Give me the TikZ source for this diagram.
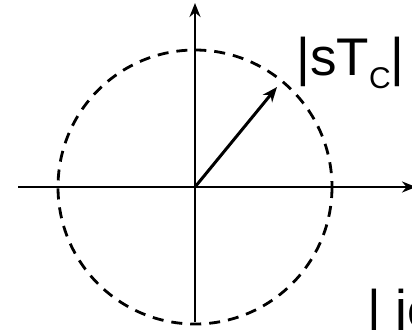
\documentclass[tikz,border=0pt]{standalone}
\usepackage{fontspec}
\setsansfont{Liberation Sans}
\usetikzlibrary{arrows.meta, positioning, calc}
\definecolor{cblack}{HTML}{000000}
\tikzset{
  every picture/.style={font=\sffamily, line width=1.4pt},
  axis/.style={-{Stealth[length=7pt, width=5.5pt]}, draw=cblack, line width=1.4pt},
  vec/.style={-{Stealth[length=7.5pt, width=6pt]}, draw=cblack, line width=1.5pt},
  locus/.style={draw=cblack, line width=1.4pt, dash pattern=on 5.5pt off 4pt},
  biglabel/.style={font=\sffamily\fontsize{26.5}{30}\selectfont, inner sep=0pt, anchor=base west},
}
\newcommand{\subC}{\raisebox{-6.5pt}{\fontsize{15}{17}\selectfont C}}
\begin{document}
\begin{tikzpicture}[x=0.5pt, y=-0.5pt]
  \useasboundingbox (0,0) rectangle (412,329);
  \clip (0,0) rectangle (412,329);
  \coordinate (O) at (195,187);
  \coordinate (xL) at (18,187);
  \coordinate (xR) at (416,187);
  \coordinate (yB) at (195,322);
  \coordinate (yT) at (195,3);
  \coordinate (tip) at (277,87);
  % axes
  \draw[axis] (xL) -- (xR);
  \draw[axis] (yB) -- (yT);
  % dashed circle of constant |sT_C|
  \draw[locus] (O) circle (137);
  \draw[vec] (O) -- (tip);
  \node[biglabel] (magS) at (295,75) {|sT\subC|};
  \node[biglabel] (magJ) at (366,327) {| jω};
\end{tikzpicture}
\end{document}
